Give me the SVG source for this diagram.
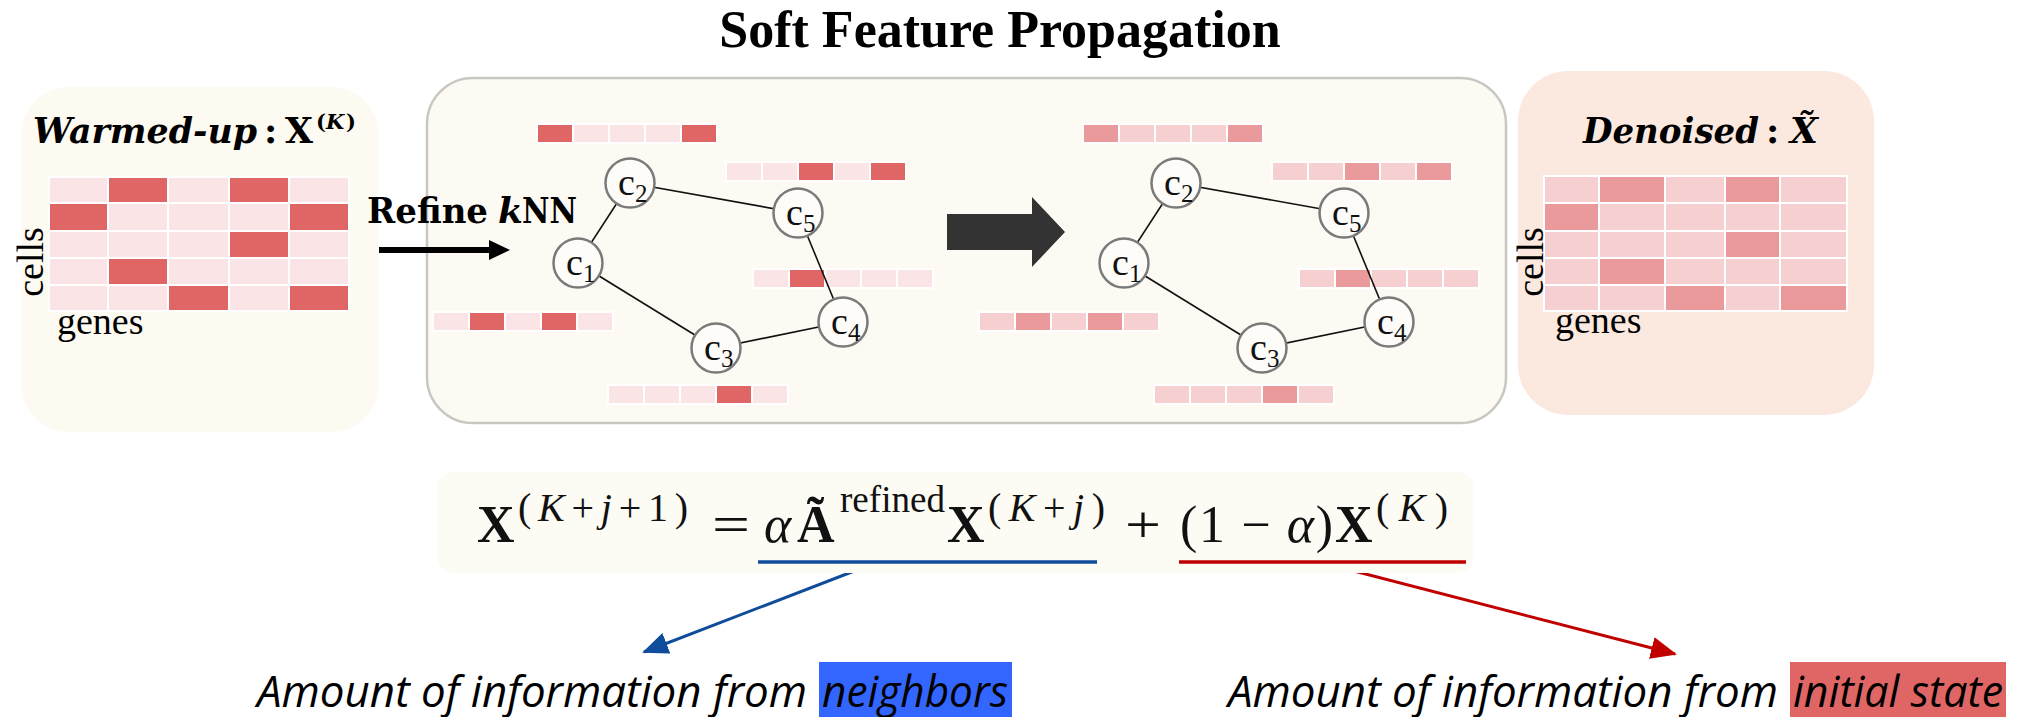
<svg xmlns="http://www.w3.org/2000/svg" width="2023" height="717" viewBox="0 0 2023 717">
  <defs>
    <style>
      .title { font-family: "Liberation Serif", "Times New Roman", serif; font-weight: bold; font-size: 52px; fill: #000; }
      .head { font-family: "DejaVu Serif", serif; font-weight: bold; font-size: 36px; fill: #000; }
      .hsup { font-family: "DejaVu Serif", serif; font-weight: bold; font-size: 21px; fill: #000; }
      .axis { font-family: "Liberation Serif", "Times New Roman", serif; font-size: 38px; fill: #000; }
      .math { font-family: "Liberation Serif", "Times New Roman", serif; font-size: 52px; fill: #111; }
      .sup { font-family: "Liberation Serif", "Times New Roman", serif; font-size: 40px; fill: #111; }
      .note { font-family: "Open Sans", "Noto Sans", sans-serif; font-style: italic; font-size: 44px; fill: #000; }
      .lbl { font-family: "Liberation Serif", "Times New Roman", serif; font-size: 38px; fill: #111; }
      .d1 { fill: #e06666; stroke: #fff; stroke-width: 2; }
      .l1 { fill: #fbe4e6; stroke: #fff; stroke-width: 2; }
      .d2 { fill: #ea9a9b; stroke: #fff; stroke-width: 2; }
      .l2 { fill: #f6cfd0; stroke: #fff; stroke-width: 2; }
      .node { fill: #fdfcf8; stroke: #7a7a7a; stroke-width: 2.5; }
      .edge { stroke: #111; stroke-width: 1.6; fill: none; }
    </style>
    <marker id="headBlue" markerUnits="userSpaceOnUse" markerWidth="26" markerHeight="22" refX="24" refY="11" orient="auto">
      <path d="M0,0 L26,11 L0,22 Z" fill="#0f4c9c"/>
    </marker>
    <marker id="headRed" markerUnits="userSpaceOnUse" markerWidth="26" markerHeight="22" refX="24" refY="11" orient="auto">
      <path d="M0,0 L26,11 L0,22 Z" fill="#c00000"/>
    </marker>
    <!-- five-cell feature vectors: pale base rows -->
    <g id="barA">
      <rect x="0" y="0" width="36" height="19" class="l1"/>
      <rect x="36" y="0" width="36" height="19" class="l1"/>
      <rect x="72" y="0" width="36" height="19" class="l1"/>
      <rect x="108" y="0" width="36" height="19" class="l1"/>
      <rect x="144" y="0" width="36" height="19" class="l1"/>
    </g>
    <g id="barB">
      <rect x="0" y="0" width="36" height="19" class="l2"/>
      <rect x="36" y="0" width="36" height="19" class="l2"/>
      <rect x="72" y="0" width="36" height="19" class="l2"/>
      <rect x="108" y="0" width="36" height="19" class="l2"/>
      <rect x="144" y="0" width="36" height="19" class="l2"/>
    </g>
  </defs>

  <rect width="2023" height="717" fill="#ffffff"/>

  <text class="title" x="1000" y="47" text-anchor="middle">Soft Feature Propagation</text>

  <!-- warmed-up matrix -->
  <g id="warmed">
    <rect x="22" y="87" width="356" height="345" rx="46" fill="#fdfaf2"/>
    <text class="head" x="33" y="143" font-style="italic" textLength="224" lengthAdjust="spacingAndGlyphs">Warmed-up</text>
    <text class="head" x="264" y="143">:</text>
    <text class="head" x="285" y="143">X</text>
    <text class="hsup" x="316" y="129">(</text>
    <text class="hsup" x="326" y="129" font-style="italic">K</text>
    <text class="hsup" x="346" y="129">)</text>
    <g>
      <rect x="49" y="177" width="59" height="26" class="l1"/><rect x="108" y="177" width="60" height="26" class="d1"/><rect x="168" y="177" width="61" height="26" class="l1"/><rect x="229" y="177" width="60" height="26" class="d1"/><rect x="289" y="177" width="60" height="26" class="l1"/>
      <rect x="49" y="203" width="59" height="28" class="d1"/><rect x="108" y="203" width="60" height="28" class="l1"/><rect x="168" y="203" width="61" height="28" class="l1"/><rect x="229" y="203" width="60" height="28" class="l1"/><rect x="289" y="203" width="60" height="28" class="d1"/>
      <rect x="49" y="231" width="59" height="27" class="l1"/><rect x="108" y="231" width="60" height="27" class="l1"/><rect x="168" y="231" width="61" height="27" class="l1"/><rect x="229" y="231" width="60" height="27" class="d1"/><rect x="289" y="231" width="60" height="27" class="l1"/>
      <rect x="49" y="258" width="59" height="27" class="l1"/><rect x="108" y="258" width="60" height="27" class="d1"/><rect x="168" y="258" width="61" height="27" class="l1"/><rect x="229" y="258" width="60" height="27" class="l1"/><rect x="289" y="258" width="60" height="27" class="l1"/>
      <rect x="49" y="285" width="59" height="26" class="l1"/><rect x="108" y="285" width="60" height="26" class="l1"/><rect x="168" y="285" width="61" height="26" class="d1"/><rect x="229" y="285" width="60" height="26" class="l1"/><rect x="289" y="285" width="60" height="26" class="d1"/>
    </g>
    <text class="axis" transform="translate(43,262) rotate(-90)" text-anchor="middle">cells</text>
    <text class="axis" x="57" y="334">genes</text>
  </g>

  <!-- propagation panel -->
  <g id="panel">
    <rect x="427" y="78" width="1079" height="345" rx="46" fill="#fcfaf3" stroke="#c9c7c1" stroke-width="2.5"/>
  </g>

  <!-- refine step label -->
  <g id="refine">
    <text class="head" x="367" y="223" textLength="121" lengthAdjust="spacingAndGlyphs">Refine</text>
    <text class="head" x="498" y="223" font-style="italic">k</text>
    <text class="head" x="522" y="223" textLength="55" lengthAdjust="spacingAndGlyphs">NN</text>
  </g>

  <!-- feature vectors, before propagation -->
  <g id="vectors-before">
    <use href="#barA" x="537" y="124"/>
    <rect x="537" y="124" width="36" height="19" class="d1"/><rect x="681" y="124" width="36" height="19" class="d1"/>
    <use href="#barA" x="726" y="162"/>
    <rect x="798" y="162" width="36" height="19" class="d1"/><rect x="870" y="162" width="36" height="19" class="d1"/>
    <use href="#barA" x="753" y="269"/>
    <rect x="789" y="269" width="36" height="19" class="d1"/>
    <use href="#barA" x="433" y="312"/>
    <rect x="469" y="312" width="36" height="19" class="d1"/><rect x="541" y="312" width="36" height="19" class="d1"/>
    <use href="#barA" x="608" y="385"/>
    <rect x="716" y="385" width="36" height="19" class="d1"/>
  </g>

  <!-- feature vectors, after propagation -->
  <g id="vectors-after">
    <use href="#barB" x="1083" y="124"/>
    <rect x="1083" y="124" width="36" height="19" class="d2"/><rect x="1227" y="124" width="36" height="19" class="d2"/>
    <use href="#barB" x="1272" y="162"/>
    <rect x="1344" y="162" width="36" height="19" class="d2"/><rect x="1416" y="162" width="36" height="19" class="d2"/>
    <use href="#barB" x="1299" y="269"/>
    <rect x="1335" y="269" width="36" height="19" class="d2"/>
    <use href="#barB" x="979" y="312"/>
    <rect x="1015" y="312" width="36" height="19" class="d2"/><rect x="1087" y="312" width="36" height="19" class="d2"/>
    <use href="#barB" x="1154" y="385"/>
    <rect x="1262" y="385" width="36" height="19" class="d2"/>
  </g>

  <!-- connectors -->
  <g id="connectors">
    <line class="edge" x1="578" y1="263" x2="630" y2="183"/>
    <line class="edge" x1="630" y1="183" x2="798" y2="213"/>
    <line class="edge" x1="798" y1="213" x2="843" y2="322"/>
    <line class="edge" x1="843" y1="322" x2="716" y2="348"/>
    <line class="edge" x1="716" y1="348" x2="578" y2="263"/>
    <line class="edge" x1="1124" y1="263" x2="1176" y2="183"/>
    <line class="edge" x1="1176" y1="183" x2="1344" y2="213"/>
    <line class="edge" x1="1344" y1="213" x2="1389" y2="322"/>
    <line class="edge" x1="1389" y1="322" x2="1262" y2="348"/>
    <line class="edge" x1="1262" y1="348" x2="1124" y2="263"/>
    <polygon points="379,247 489,247 489,240 510,250 489,260 489,253 379,253" fill="#000"/>
    <polygon points="947,214 1032,214 1032,197 1065,232 1032,267 1032,250 947,250" fill="#333333"/>
    <line x1="875" y1="563" x2="644" y2="652" stroke="#0f4c9c" stroke-width="3" marker-end="url(#headBlue)"/>
    <line x1="1323" y1="563" x2="1675" y2="654" stroke="#c00000" stroke-width="3" marker-end="url(#headRed)"/>
  </g>

  <!-- graph nodes, before -->
  <g id="c1"><circle class="node" cx="578" cy="263" r="24.5"/><text class="lbl" x="566" y="275">c<tspan font-size="25" dy="7">1</tspan></text></g>
  <g id="c2"><circle class="node" cx="630" cy="183" r="24.5"/><text class="lbl" x="618" y="195">c<tspan font-size="25" dy="7">2</tspan></text></g>
  <g id="c3"><circle class="node" cx="716" cy="348" r="24.5"/><text class="lbl" x="704" y="360">c<tspan font-size="25" dy="7">3</tspan></text></g>
  <g id="c4"><circle class="node" cx="843" cy="322" r="24.5"/><text class="lbl" x="831" y="334">c<tspan font-size="25" dy="7">4</tspan></text></g>
  <g id="c5"><circle class="node" cx="798" cy="213" r="24.5"/><text class="lbl" x="786" y="225">c<tspan font-size="25" dy="7">5</tspan></text></g>

  <!-- graph nodes, after -->
  <g id="c1b"><circle class="node" cx="1124" cy="263" r="24.5"/><text class="lbl" x="1112" y="275">c<tspan font-size="25" dy="7">1</tspan></text></g>
  <g id="c2b"><circle class="node" cx="1176" cy="183" r="24.5"/><text class="lbl" x="1164" y="195">c<tspan font-size="25" dy="7">2</tspan></text></g>
  <g id="c3b"><circle class="node" cx="1262" cy="348" r="24.5"/><text class="lbl" x="1250" y="360">c<tspan font-size="25" dy="7">3</tspan></text></g>
  <g id="c4b"><circle class="node" cx="1389" cy="322" r="24.5"/><text class="lbl" x="1377" y="334">c<tspan font-size="25" dy="7">4</tspan></text></g>
  <g id="c5b"><circle class="node" cx="1344" cy="213" r="24.5"/><text class="lbl" x="1332" y="225">c<tspan font-size="25" dy="7">5</tspan></text></g>

  <!-- denoised matrix -->
  <g id="denoised">
    <rect x="1518" y="71" width="356" height="344" rx="50" fill="#fbe9df"/>
    <text class="head" x="1583" y="143" font-style="italic" textLength="176" lengthAdjust="spacingAndGlyphs">Denoised</text>
    <text class="head" x="1766" y="143">:</text>
    <text class="head" x="1790" y="143" font-style="italic">X&#x303;</text>
    <g>
      <rect x="1544" y="176" width="55" height="27" class="l2"/><rect x="1599" y="176" width="66" height="27" class="d2"/><rect x="1665" y="176" width="60" height="27" class="l2"/><rect x="1725" y="176" width="55" height="27" class="d2"/><rect x="1780" y="176" width="67" height="27" class="l2"/>
      <rect x="1544" y="203" width="55" height="28" class="d2"/><rect x="1599" y="203" width="66" height="28" class="l2"/><rect x="1665" y="203" width="60" height="28" class="l2"/><rect x="1725" y="203" width="55" height="28" class="l2"/><rect x="1780" y="203" width="67" height="28" class="l2"/>
      <rect x="1544" y="231" width="55" height="27" class="l2"/><rect x="1599" y="231" width="66" height="27" class="l2"/><rect x="1665" y="231" width="60" height="27" class="l2"/><rect x="1725" y="231" width="55" height="27" class="d2"/><rect x="1780" y="231" width="67" height="27" class="l2"/>
      <rect x="1544" y="258" width="55" height="27" class="l2"/><rect x="1599" y="258" width="66" height="27" class="d2"/><rect x="1665" y="258" width="60" height="27" class="l2"/><rect x="1725" y="258" width="55" height="27" class="l2"/><rect x="1780" y="258" width="67" height="27" class="l2"/>
      <rect x="1544" y="285" width="55" height="26" class="l2"/><rect x="1599" y="285" width="66" height="26" class="l2"/><rect x="1665" y="285" width="60" height="26" class="d2"/><rect x="1725" y="285" width="55" height="26" class="l2"/><rect x="1780" y="285" width="67" height="26" class="d2"/>
    </g>
    <text class="axis" transform="translate(1543,262) rotate(-90)" text-anchor="middle">cells</text>
    <text class="axis" x="1555" y="333">genes</text>
  </g>

  <!-- update rule -->
  <g id="formula">
    <rect x="437" y="472" width="1037" height="101" rx="16" fill="#fcfbf4"/>
    <text class="math" x="477" y="542" font-weight="bold">X</text>
    <text class="sup" x="518" y="521" textLength="170" lengthAdjust="spacing">(<tspan font-style="italic">K</tspan>+<tspan font-style="italic">j</tspan>+1)</text>
    <text class="math" x="712" y="542" textLength="38" lengthAdjust="spacingAndGlyphs">=</text>
    <text class="math" x="764" y="542" font-style="italic">α</text>
    <text class="math" x="797" y="542" font-weight="bold">Ã</text>
    <text class="sup" x="840" y="512" style="font-size:37px" textLength="105" lengthAdjust="spacingAndGlyphs">refined</text>
    <text class="math" x="947" y="542" font-weight="bold">X</text>
    <text class="sup" x="988" y="521" textLength="117" lengthAdjust="spacing">(<tspan font-style="italic">K</tspan>+<tspan font-style="italic">j</tspan>)</text>
    <text class="math" x="1125" y="542" textLength="36" lengthAdjust="spacingAndGlyphs">+</text>
    <text class="math" x="1180" y="542" textLength="153" lengthAdjust="spacing">(1 − <tspan font-style="italic">α</tspan>)</text>
    <text class="math" x="1335" y="542" font-weight="bold">X</text>
    <text class="sup" x="1376" y="521" textLength="72" lengthAdjust="spacing">(<tspan font-style="italic">K</tspan>)</text>
    <line x1="758" y1="562" x2="1097" y2="562" stroke="#0f4c9c" stroke-width="3.5"/>
    <line x1="1179" y1="562" x2="1466" y2="562" stroke="#c00000" stroke-width="3.5"/>
  </g>

  <!-- captions -->
  <g id="caption-neighbors">
    <rect x="819" y="662" width="193" height="55" fill="#3366ff"/>
    <text class="note" x="257" y="707" textLength="550" lengthAdjust="spacingAndGlyphs">Amount of information from</text>
    <text class="note" x="822" y="707" textLength="186" lengthAdjust="spacingAndGlyphs">neighbors</text>
  </g>
  <g id="caption-initial">
    <rect x="1790" y="662" width="216" height="55" fill="#e06666"/>
    <text class="note" x="1228" y="707" textLength="550" lengthAdjust="spacingAndGlyphs">Amount of information from</text>
    <text class="note" x="1793" y="707" textLength="210" lengthAdjust="spacingAndGlyphs">initial state</text>
  </g>
</svg>
